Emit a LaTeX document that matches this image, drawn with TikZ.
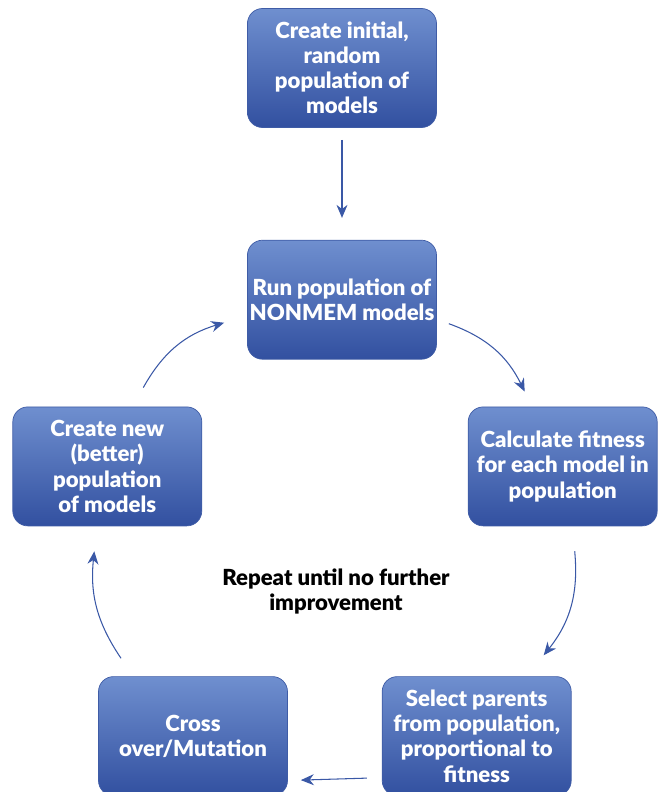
\documentclass[tikz,border=0pt]{standalone}
\usepackage{fontspec}
\setmainfont{Lato}[BoldFont={Lato Black}]
\usetikzlibrary{arrows.meta, positioning, calc}
\definecolor{boxtop}{HTML}{6F8FCF}
\definecolor{boxbot}{HTML}{3250A0}
\definecolor{boxline}{HTML}{3F5CA6}
\definecolor{arrowblue}{HTML}{3A58A6}

\begin{document}
\begin{tikzpicture}[
  node distance=2.24cm and 0.62cm,
  stage/.style={rectangle, rounded corners=0.3cm, minimum width=3.78cm, minimum height=2.38cm,
    inner xsep=1pt, align=center, draw=boxline, top color=boxtop, bottom color=boxbot,
    text=white, font=\fontsize{12.6}{14.3}\selectfont\bfseries},
  note/.style={align=center, text=black, font=\fontsize{12.6}{14.5}\selectfont\bfseries},
  arrow/.style={-{Stealth[length=2.6mm, width=2.2mm, fill=arrowblue]}, draw=arrowblue, line width=0.6pt}
]
\useasboundingbox (-6.84,1.36) rectangle (6.36,-14.48);

\node (start) [stage] {Create initial,\\random\\population of\\models};
\node (run) [stage, below=of start] {Run population of\\NONMEM models};
\node (fitness) [stage, below right=0.94cm and 0.62cm of run] {Calculate fitness\\for each model in\\population};
\node (newpop) [stage, below left=0.94cm and 0.9cm of run] {Create new\\(better)\\population\\of models};
\node (select) [stage, below=3cm of fitness, xshift=-1.72cm] {Select parents\\from population,\\proportional to\\fitness};
\node (cross) [stage, left=1.88cm of select] {Cross\\over/Mutation};
\node (repeat) [note] at ($(run.south)+(-0.12,-4.64)$) {Repeat until no further\\improvement};

\draw [arrow, shorten <=0.24cm, shorten >=0.44cm] (start) -- (run);
\draw [arrow] ([shift={(0.24,-0.48)}]run.east) to[bend left=22] ([shift={(-0.76,0.3)}]fitness.north);
\draw [arrow] ([shift={(0.24,-0.5)}]fitness.south) to[bend left=22] ([shift={(1.34,0.42)}]select.north);
\draw [arrow] ([shift={(-0.3,-0.84)}]select.west) -- ([shift={(0.26,-0.88)}]cross.east);
\draw [arrow] ([shift={(-1.44,0.36)}]cross.north) to[bend left=20] ([shift={(-0.26,-0.5)}]newpop.south);
\draw [arrow] ([shift={(0.72,0.38)}]newpop.north) to[bend left=22] ([shift={(-0.46,-0.46)}]run.west);

\end{tikzpicture}
\end{document}
